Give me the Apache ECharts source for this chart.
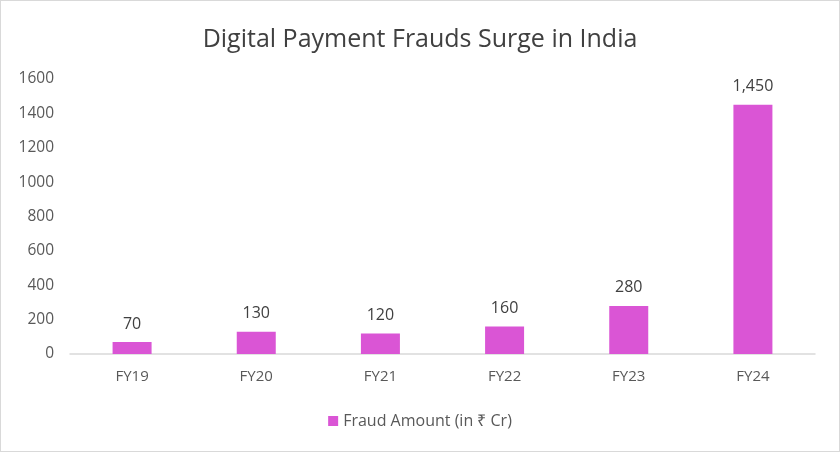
<!DOCTYPE html>
<html><head><meta charset="utf-8">
<script src="https://cdn.jsdelivr.net/npm/echarts@6/dist/echarts.min.js"></script>
<style>html,body{margin:0;padding:0;background:#fff}#c{width:840px;height:452px;box-sizing:border-box;border:1px solid #d9d9d9}</style>
</head><body><div id="c"></div>
<script>
const categories = ['FY19','FY20','FY21','FY22','FY23','FY24'];
const fraudAmount = [70,130,120,160,280,1450];
const seriesName = 'Fraud Amount (in ₹ Cr)';
const titleText = 'Digital Payment Frauds Surge in India';
const chart = echarts.init(document.getElementById('c'));
const font = 'Open Sans';
chart.setOption({
  animation:false,
  title:{text:titleText,left:'center',top:21,textStyle:{fontFamily:font,fontSize:25,fontWeight:'normal',color:'#404040'}},
  grid:{left:69,right:24,top:78,bottom:97,containLabel:false},
  legend:{bottom:17,left:'center',itemWidth:10,itemHeight:10,itemGap:8,icon:'rect',textStyle:{fontFamily:font,fontSize:16,color:'#595959'}},
  xAxis:{type:'category',data:categories,axisTick:{show:false},axisLine:{lineStyle:{color:'#d9d9d9',width:1.5}},
    axisLabel:{fontFamily:font,fontSize:15,color:'#595959',margin:15}},
  yAxis:{type:'value',min:0,max:1600,interval:200,splitLine:{show:false},axisLine:{show:false},axisTick:{show:false},
    axisLabel:{fontFamily:font,fontSize:15.5,color:'#595959',margin:16,formatter:v=>String(v)}},
  series:[{name:seriesName,type:'bar',data:fraudAmount,barWidth:39,itemStyle:{color:'#DA55D5'},
    label:{show:true,position:'top',distance:10,fontFamily:font,fontSize:16,color:'#404040',
      formatter:p=>p.value.toLocaleString('en-US')}}]
});
</script></body></html>
